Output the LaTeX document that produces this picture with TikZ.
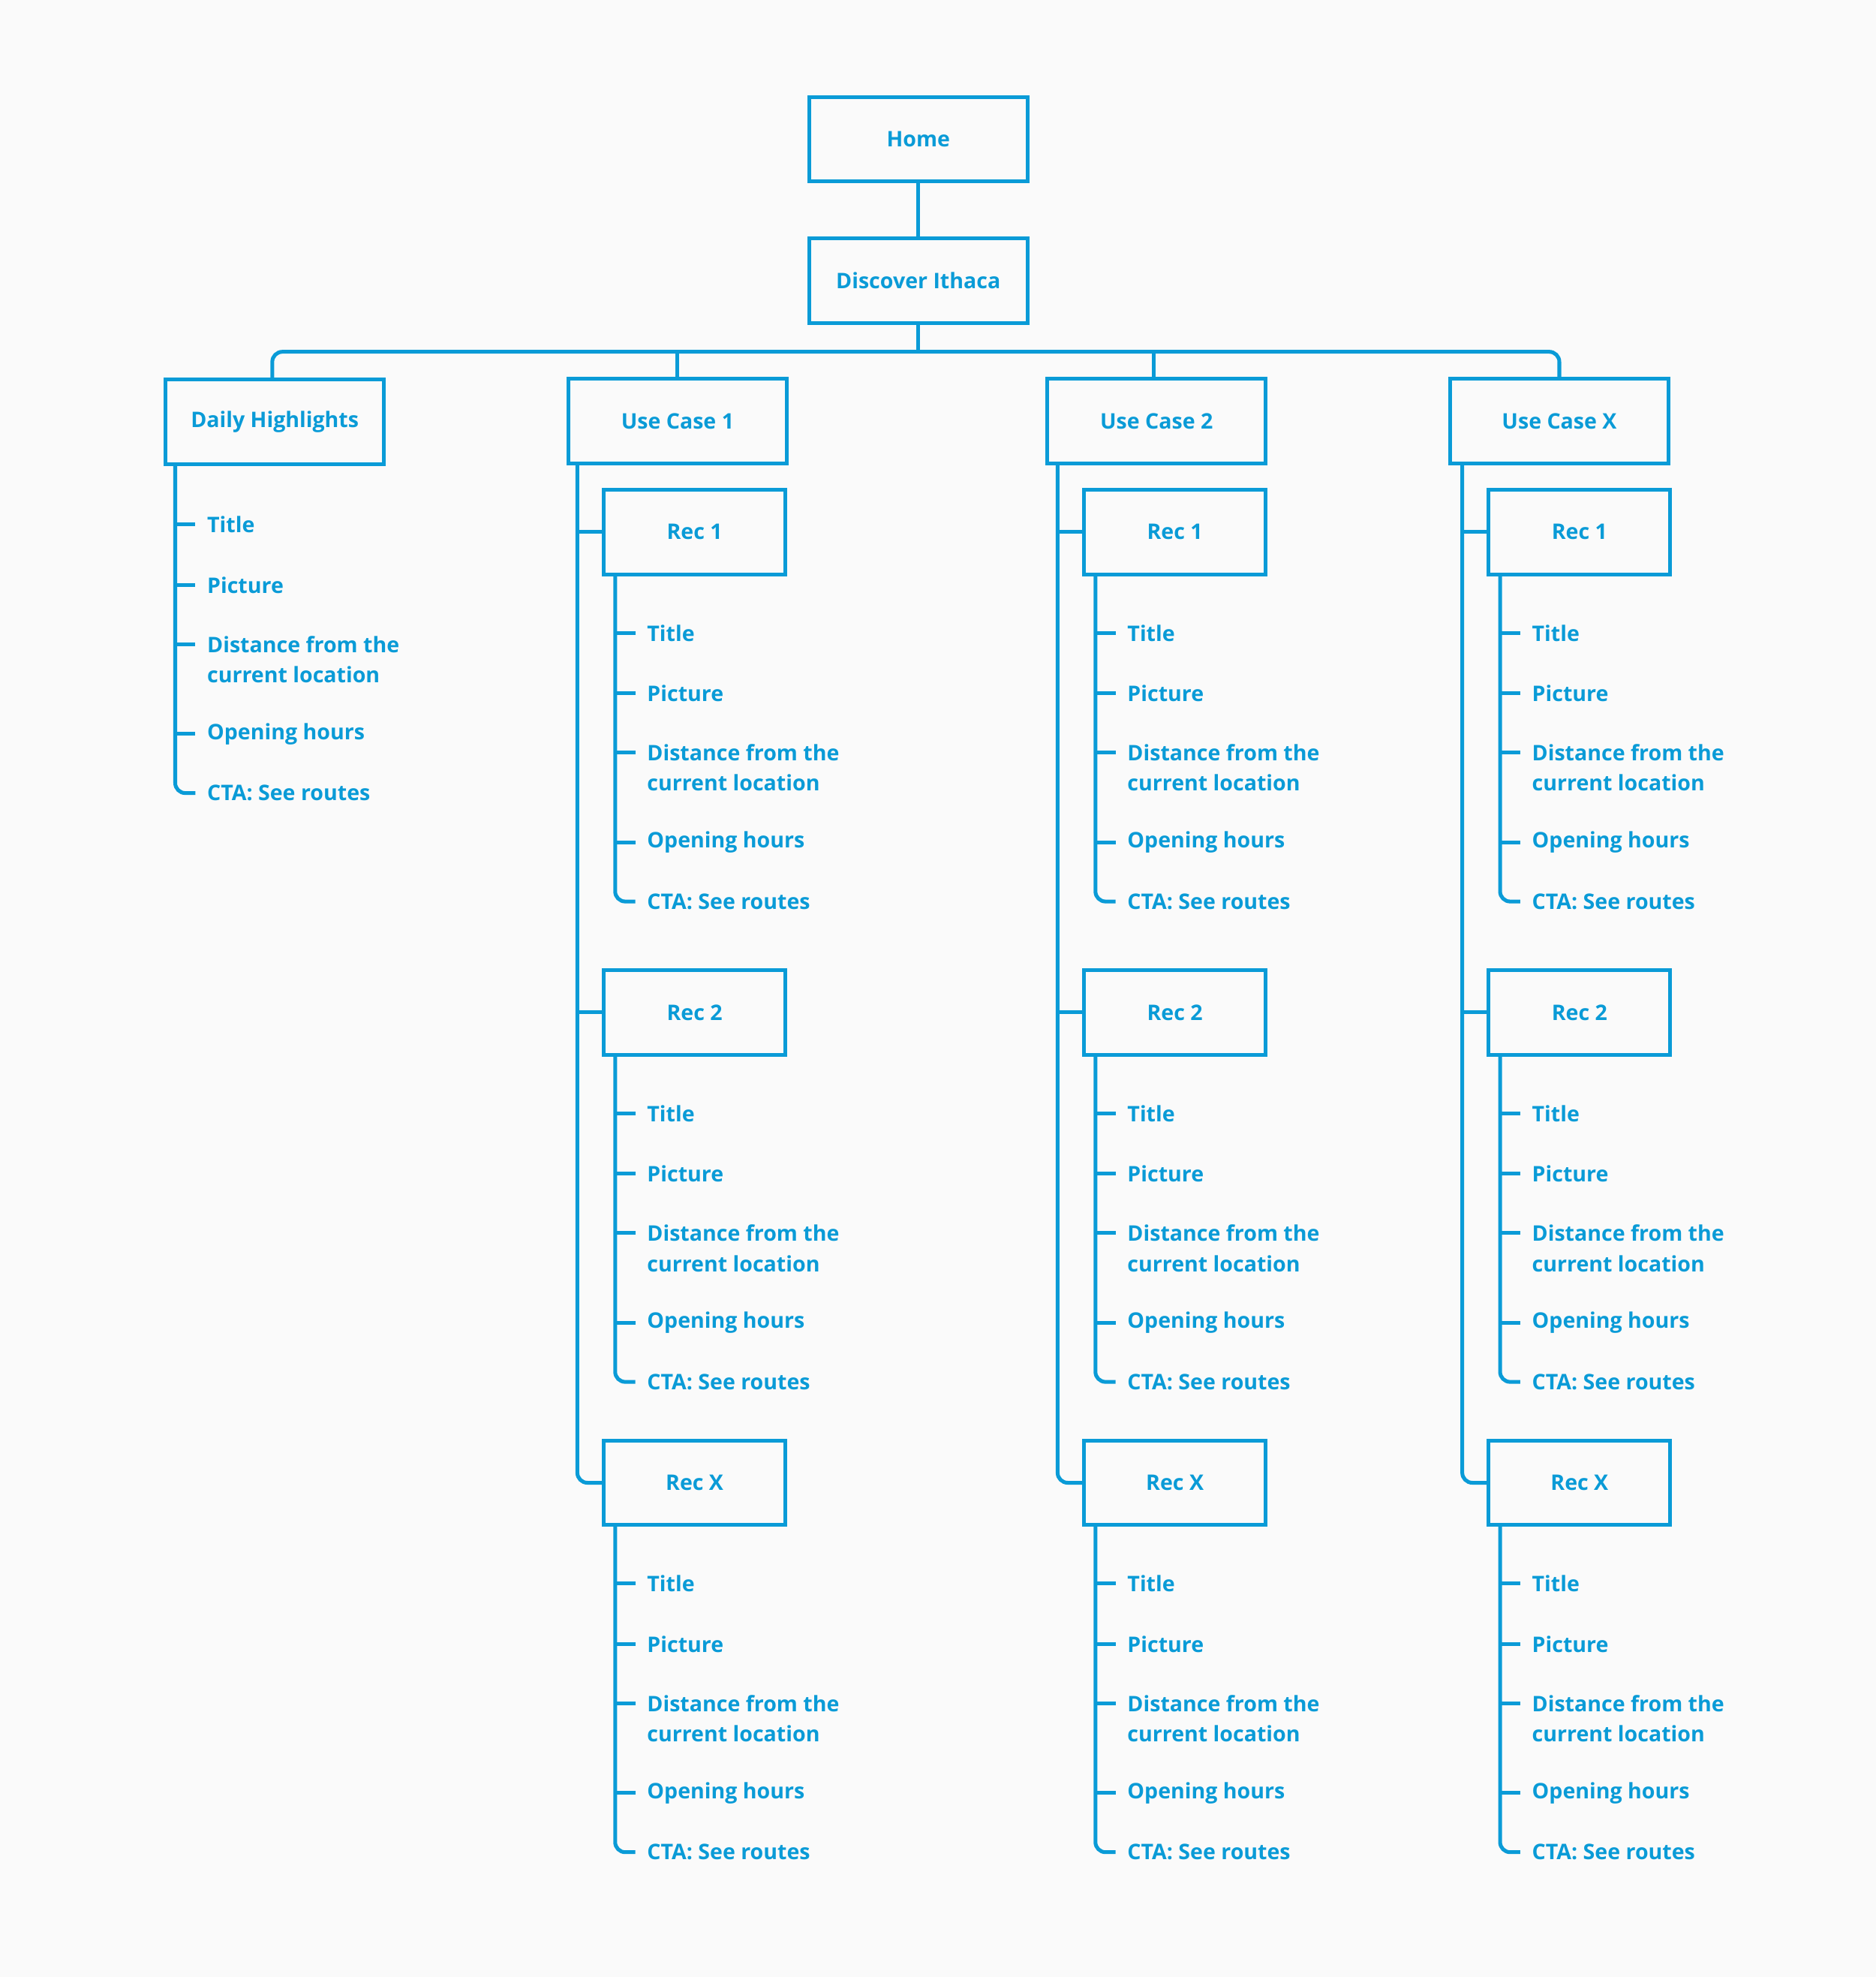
\documentclass[tikz,border=0pt]{standalone}
\usepackage{fontspec}
\setmainfont{Open Sans}
\definecolor{ib}{HTML}{0A9BD7}
\definecolor{bg}{HTML}{FAFAFA}
\tikzset{
 box/.style={draw=ib,line width=1.5pt,minimum width=86.5pt,minimum height=33.5pt,inner sep=0pt,text=ib,font=\fontsize{8.5}{12}\selectfont\bfseries},
 conn/.style={draw=ib,line width=1.5pt},
 lbl/.style={text=ib,font=\fontsize{8.5}{12}\selectfont\bfseries,anchor=west,inner sep=0pt,align=left}
}
\newcommand\itemlist[4]{% #1 prefix, #2 line x, #3 line top y, #4 title y
 \coordinate (#1t) at (#2,#3);
 \coordinate (#1e) at ({#2+16},{#4+213});
 \draw[conn,rounded corners=4pt] (#1t) |- (#1e);
 \foreach \o in {0,48,95,166} {\coordinate (#1k\o) at (#2,{#4+\o}); \draw[conn] (#1k\o) -- ++(16,0);}
 \node[lbl] (#1a) at ({#2+25},#4) {Title};
 \node[lbl] (#1b) at ({#2+25},{#4+48}) {Picture};
 \node[lbl] (#1c) at ({#2+25},{#4+107}) {Distance from the\\current location};
 \node[lbl] (#1d) at ({#2+25},{#4+166}) {Opening hours};
 \node[lbl] (#1f) at ({#2+25},{#4+213}) {CTA: See routes};
}
\newcommand\usecase[4]{% #1 prefix, #2 center x, #3 label, #4 rec box left x
 \node[box] (#1) at (#2,334) {#3};
 \node[box,minimum width=72pt] (#1r1) at ({#4+72},422) {Rec 1};
 \node[box,minimum width=72pt] (#1r2) at ({#4+72},803) {Rec 2};
 \node[box,minimum width=72pt] (#1rx) at ({#4+72},1176) {Rec X};
 \coordinate (#1top) at ({#4-21},368);
 \draw[conn,rounded corners=4pt] (#1top) |- (#1rx.west);
 \draw[conn] ({#4-21},422) -- (#1r1.west);
 \draw[conn] ({#4-21},803) -- (#1r2.west);
 \itemlist{#1p}{#4+9}{456}{502}
 \itemlist{#1q}{#4+9}{837}{883}
 \itemlist{#1s}{#4+9}{1209}{1256}
}
\begin{document}
\begin{tikzpicture}[x=0.5pt,y=-0.5pt]
\fill[bg] (0,0) rectangle (1488,1568);
\useasboundingbox (0,0) rectangle (1488,1568);
\node[box] (home) at (728.5,110.5) {Home};
\node[box] (disc) at (728.5,222.5) {Discover Ithaca};
\draw[conn] (home) -- (disc);
\node[box] (dh) at (218,334.5) {Daily Highlights};
\usecase{u1}{537.5}{Use Case 1}{479}
\usecase{u2}{917.5}{Use Case 2}{860}
\usecase{ux}{1237}{Use Case X}{1181}
\coordinate (bl) at (216,279);
\coordinate (br) at (1237,279);
\draw[conn,rounded corners=4pt] (216,301) -- (bl) -- (br) -- (1237,301);
\draw[conn] (disc.south) -- (728.5,279);
\draw[conn] (537.5,279) -- (u1.north);
\draw[conn] (915,279) -- (915,301);
\itemlist{dl}{139}{368}{416}
\end{tikzpicture}
\end{document}
